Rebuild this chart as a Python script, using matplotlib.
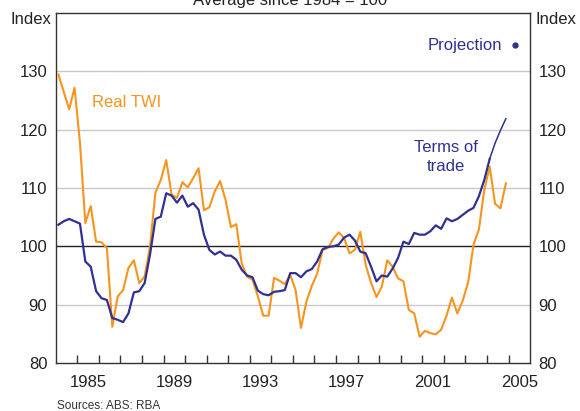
import numpy as np
import matplotlib.pyplot as plt
from matplotlib.ticker import FixedLocator

plt.rcParams['font.family'] = ['Liberation Sans', 'DejaVu Sans']

# quarterly data, 1984 Q1 to 2004 Q4 (index, average since 1984 = 100)
twi = [129.5, 126.5, 123.5, 127.2,
       117.8, 104.0, 106.9, 100.8,
       100.7, 99.7, 86.2, 91.4,
       92.5, 96.3, 97.6, 93.7,
       94.8, 100.0, 109.2, 111.4,
       114.8, 108.9, 108.3, 111.0,
       110.1, 111.7, 113.4, 106.2,
       106.7, 109.4, 111.2, 108.0,
       103.3, 103.8, 97.1, 94.8,
       94.3, 91.4, 88.1, 88.1,
       94.6, 94.1, 93.5, 95.1,
       92.5, 86.0, 90.5, 93.2,
       95.3, 99.4, 99.7, 101.3,
       102.4, 101.4, 98.8, 99.4,
       102.5, 96.8, 93.7, 91.3,
       93.1, 97.6, 96.5, 94.5,
       94.0, 89.1, 88.5, 84.5,
       85.5, 85.1, 84.9, 85.7,
       88.1, 91.2, 88.5, 90.7,
       93.8, 100.3, 102.9, 109.7,
       113.7, 107.3, 106.5, 110.8]

tot = [103.7, 104.3, 104.7, 104.3,
       103.9, 97.4, 96.5, 92.3,
       91.1, 90.8, 87.7, 87.4,
       87.0, 88.5, 92.1, 92.3,
       93.7, 98.6, 104.7, 105.1,
       109.1, 108.7, 107.5, 108.7,
       106.8, 107.4, 106.3, 102.0,
       99.4, 98.6, 99.1, 98.4,
       98.4, 97.7, 96.0, 95.0,
       94.7, 92.4, 91.8, 91.6,
       92.2, 92.3, 92.5, 95.4,
       95.4, 94.7, 95.7, 96.1,
       97.4, 99.5, 99.9, 100.0,
       100.3, 101.5, 102.0, 101.0,
       99.1, 98.8, 96.5, 94.0,
       95.0, 94.8, 96.2, 98.0,
       100.8, 100.4, 102.3, 102.0,
       102.0, 102.6, 103.6, 103.0,
       104.8, 104.3, 104.7, 105.4,
       106.1, 106.6, 108.6, 111.4,
       115.0, 117.7, 119.9, 121.9]

n_proj = 4  # last quarters of terms of trade drawn as projection
year_labels = [1985, 1989, 1993, 1997, 2001, 2005]
y_ticks = [80, 90, 100, 110, 120, 130]

t = 1984.125 + 0.25 * np.arange(len(twi))

orange = '#F7941D'
navy = '#2E3192'

fig = plt.figure(figsize=(5.8, 4.11), dpi=100)
ax = fig.add_axes([0.096, 0.117, 0.818, 0.851])

for y in [90, 110, 120, 130]:
    ax.axhline(y, color='#C8C9CE', lw=1.0, zorder=1)
ax.axhline(100, color='#222222', lw=1.0, zorder=1)

ax.plot(t, twi, color=orange, lw=1.5, zorder=3)
ax.plot(t[:-n_proj + 1], tot[:-n_proj + 1], color=navy, lw=1.6, zorder=4)
ax.plot(t[-n_proj:], tot[-n_proj:], color=navy, lw=1.1, zorder=4)

ax.set_xlim(1984, 2006)
ax.set_ylim(80, 140)

# year boundary tick marks, labels centred in the year
ax.xaxis.set_minor_locator(FixedLocator(np.arange(1985, 2006)))
ax.xaxis.set_major_locator(FixedLocator([y + 0.5 for y in year_labels]))
ax.set_xticklabels([str(y) for y in year_labels])
ax.tick_params(axis='x', which='minor', direction='in', length=6, width=1, color='#333333')
ax.tick_params(axis='x', which='major', length=0, pad=9, labelsize=12, labelcolor='#222222')

ax.set_yticks(y_ticks)
ax.set_yticklabels([str(v) for v in y_ticks])
ax.tick_params(axis='y', which='both', length=0, labelsize=12, labelcolor='#222222',
               left=True, right=True, labelleft=True, labelright=True, pad=6)
for lab in ax.get_yticklabels(which='both'):
    if lab.get_text() == '80':
        lab.set_y(79.2)

for s in ax.spines.values():
    s.set_color('#333333')
    s.set_linewidth(1.0)

fig.text(0.054, 0.953, 'Index', ha='center', va='center', fontsize=12, color='#222222')
fig.text(0.994, 0.953, 'Index', ha='right', va='center', fontsize=12, color='#222222')
fig.text(0.5, 0.987, 'Average since 1984 = 100', ha='center', va='baseline',
         fontsize=12, color='#222222')

ax.text(1985.7, 124.7, 'Real TWI', color=orange, fontsize=12, ha='left', va='center')
ax.text(2002.1, 115.3, 'Terms of\ntrade', color=navy, fontsize=12, ha='center',
        va='center', linespacing=1.3)
ax.text(2004.7, 134.5, 'Projection', color=navy, fontsize=12, ha='right', va='center')
ax.plot([2005.3], [134.5], 'o', color=navy, ms=3.5, clip_on=False)

fig.text(0.098, 0.006, 'Sources: ABS: RBA', fontsize=8.5, color='#333333', ha='left')

fig.savefig('out.png', dpi=100)
